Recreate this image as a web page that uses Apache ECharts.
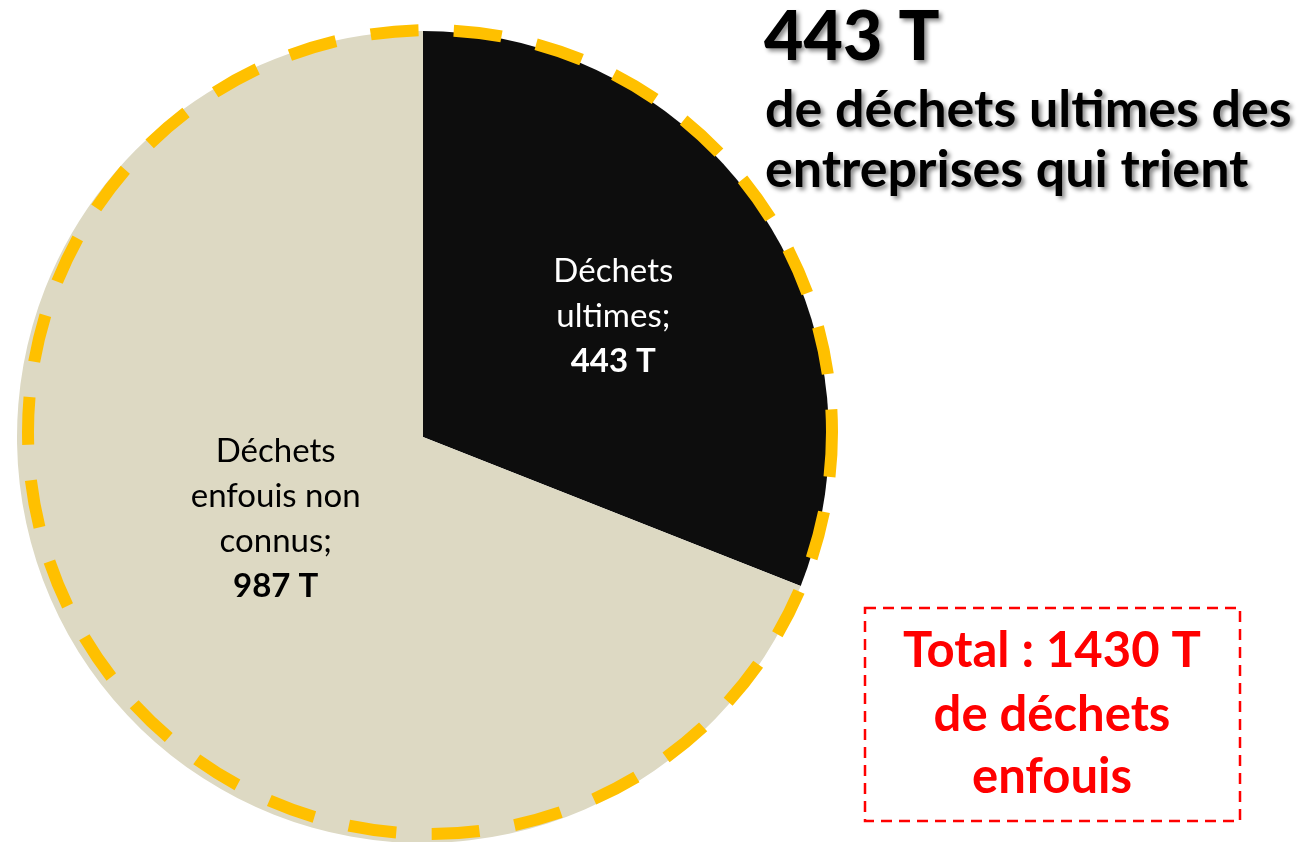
<!DOCTYPE html>
<html>
<head>
<meta charset="utf-8">
<script src="https://cdn.jsdelivr.net/npm/echarts@6/dist/echarts.min.js"></script>
<style>
html,body{margin:0;padding:0;background:#fff;}
#chart{width:1316px;height:842px;}
</style>
</head>
<body>
<div id="chart"></div>
<script>
// ---- data ----
const categories = ['Déchets ultimes', 'Déchets enfouis non connus'];
const labelLines = [['Déchets', 'ultimes;'], ['Déchets', 'enfouis non', 'connus;']];
const values = [443, 987];
const unit = 'T';
const total = 1430;
const titleLines = ['443 T', 'de déchets ultimes des', 'entreprises qui trient'];
const totalLines = ['Total : ' + total + ' ' + unit, 'de déchets', 'enfouis'];

// ---- styles ----
const sliceColors = ['#0d0d0d', '#ddd9c3'];
const labelColors = ['#ffffff', '#000000'];
const labelShift = [[20, -5], [23, -34]];
const FONT = 'Lato, "Open Sans", sans-serif';

const chart = echarts.init(document.getElementById('chart'), null, {renderer: 'canvas'});

const shadow = {
  textShadowColor: 'rgba(0,0,0,0.45)',
  textShadowBlur: 4,
  textShadowOffsetX: 3,
  textShadowOffsetY: 3
};

chart.setOption({
  animation: false,
  backgroundColor: '#ffffff',
  series: [{
    type: 'pie',
    center: [423, 437],
    radius: 406,
    startAngle: 90,
    clockwise: true,
    silent: true,
    itemStyle: {borderWidth: 0},
    label: {
      show: true,
      position: 'inside',
      fontFamily: FONT,
      fontSize: 33,
      lineHeight: 45,
      align: 'center',
      formatter: p => labelLines[p.dataIndex].map(l => '{n|' + l + '}').join('\n') +
        '\n{v|' + p.value + ' ' + unit + '}',
      rich: {
        n: {fontFamily: FONT, fontSize: 33, lineHeight: 45},
        v: {fontFamily: FONT, fontSize: 33, lineHeight: 45, fontWeight: 'bold'}
      }
    },
    labelLayout: p => ({dx: labelShift[p.dataIndex][0], dy: labelShift[p.dataIndex][1]}),
    labelLine: {show: false},
    data: categories.map((c, i) => ({
      name: c,
      value: values[i],
      itemStyle: {color: sliceColors[i]},
      label: {color: labelColors[i]}
    }))
  }],
  graphic: [
    {
      type: 'circle',
      silent: true,
      z: 10,
      shape: {cx: 430, cy: 432, r: 402},
      style: {fill: 'none', stroke: '#FFC000', lineWidth: 12, lineDash: [48, 35.5], lineDashOffset: 3}
    },
    {
      type: 'text', x: 764, y: 38, z: 20,
      style: Object.assign({text: titleLines[0], font: '900 68px ' + FONT, fill: '#000',
        textAlign: 'left', verticalAlign: 'middle'}, shadow)
    },
    {
      type: 'text', x: 765, y: 110, z: 20,
      style: Object.assign({text: titleLines[1], font: 'bold 52px ' + FONT, fill: '#000',
        textAlign: 'left', verticalAlign: 'middle'}, shadow)
    },
    {
      type: 'text', x: 765, y: 170, z: 20,
      style: Object.assign({text: titleLines[2], font: 'bold 52px ' + FONT, fill: '#000',
        textAlign: 'left', verticalAlign: 'middle'}, shadow)
    },
    {
      type: 'rect', z: 20,
      shape: {x: 865, y: 608, width: 375, height: 213},
      style: {fill: 'none', stroke: '#FF0000', lineWidth: 2.5, lineDash: [11, 7]}
    },
    {
      type: 'text', x: 1052, y: 651, z: 20,
      style: {text: totalLines[0], font: 'bold 49px ' + FONT, fill: '#FF0000', textAlign: 'center', verticalAlign: 'middle'}
    },
    {
      type: 'text', x: 1052, y: 715, z: 20,
      style: {text: totalLines[1], font: 'bold 49px ' + FONT, fill: '#FF0000', textAlign: 'center', verticalAlign: 'middle'}
    },
    {
      type: 'text', x: 1052, y: 777, z: 20,
      style: {text: totalLines[2], font: 'bold 49px ' + FONT, fill: '#FF0000', textAlign: 'center', verticalAlign: 'middle'}
    }
  ]
});
</script>
</body>
</html>
